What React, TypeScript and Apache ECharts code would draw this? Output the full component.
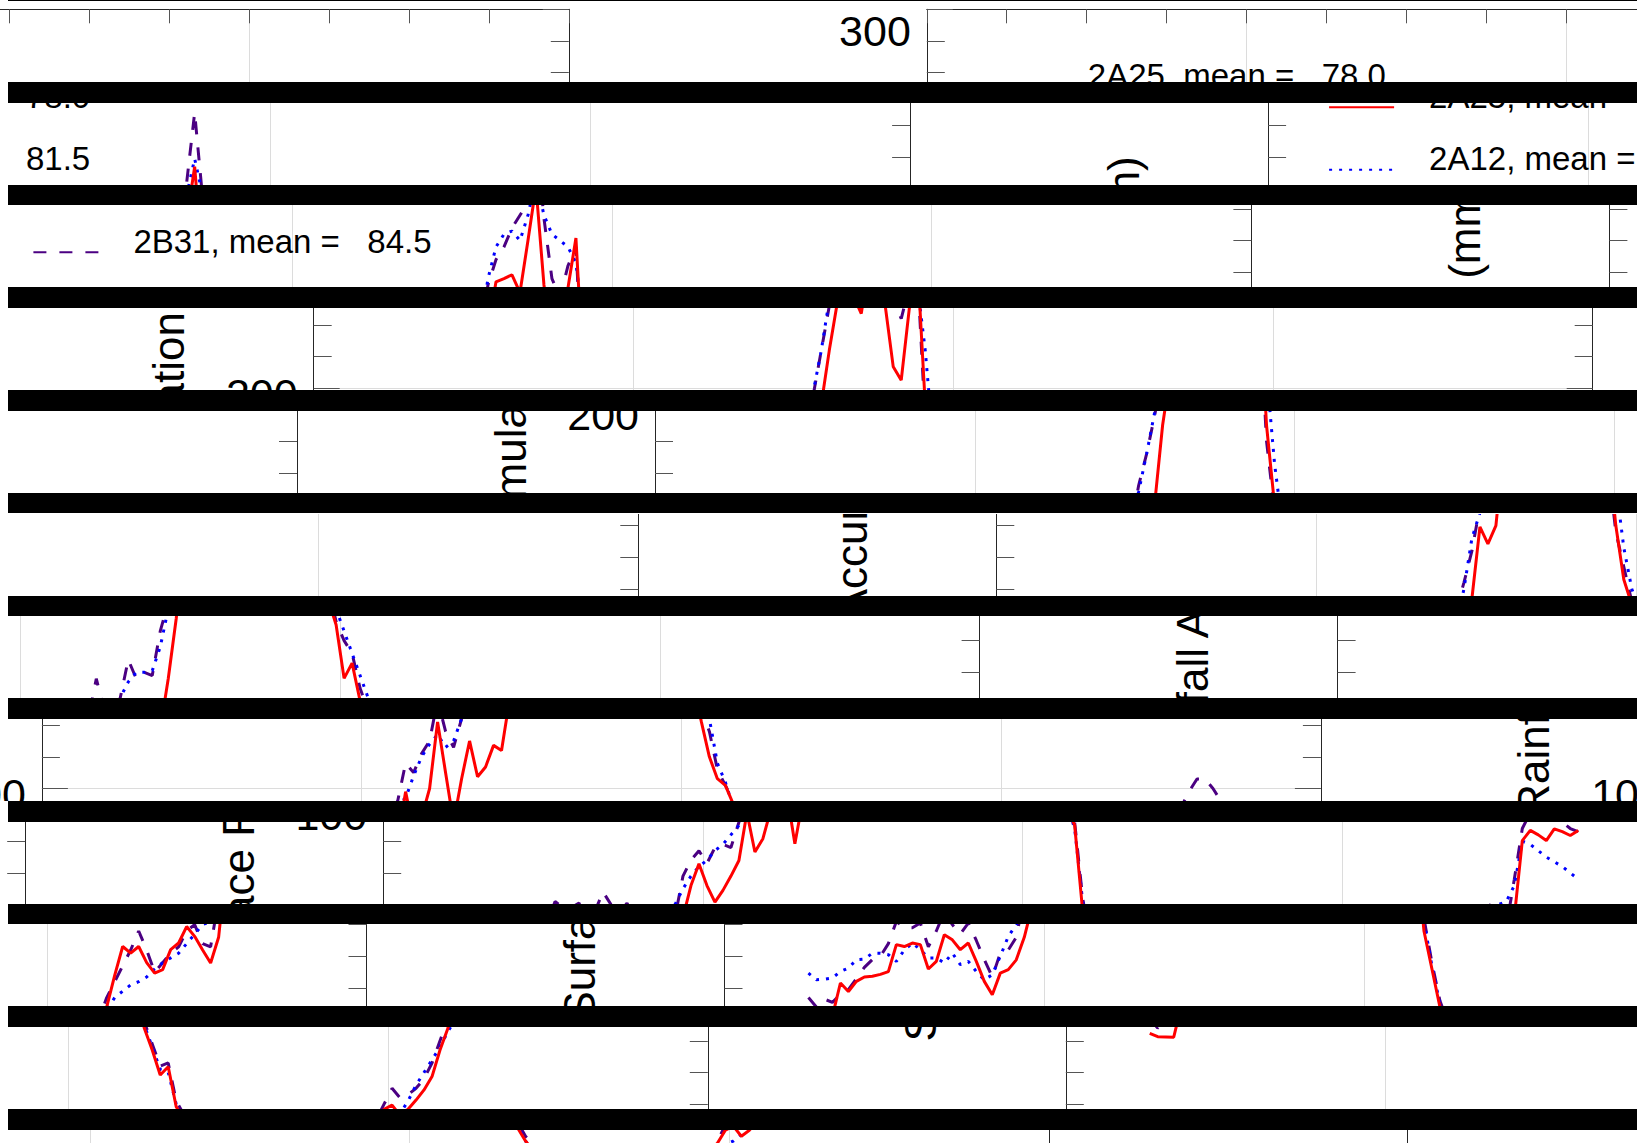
import { useEffect, useRef } from "react";
import * as echarts from "echarts";

// Page layout: the figure is shown as horizontal strips, each strip shifted
// further to the right (wrapping around), separated by black bands.
const PAGE_W = 1637;
const PAGE_H = 1143;
const STRIP_COUNT = 12;
const STRIP_H = 82;
const STRIP_PERIOD = 102.7;
const STRIP_SHIFT = 341.3;
const BAND_X = 8;

// Plot frame inside the unshifted figure
const PLOT_LEFT = 926.8;
const PLOT_TOP = 9.3;
const PLOT_W = 1279;
const PLOT_H = 951.3;

const FONT = "'Liberation Sans', Arial, Helvetica, sans-serif";
const AXIS_COLOR = "#262626";
const TICK_COLOR = "#555555";
const GRID_COLOR = "#dcdcdc";

// Axes
const xRange = [0, 160];
const xStep = 40;
const xMinorSplit = 4;
const yRange = [0, 300];
const yStep = 100;
const yMinorSplit = 10;
const yTitle = "Surface Rainfall Accumulation (mm)";

// Samples start at this x and advance by one unit
const firstX = 10.5;

// Surface rainfall accumulation (mm)
const rain2A25 = [
  42.3, 41.3, 41.2, 41.1, 51.6, 48.9, 52.1, 53.5, 53.7, 54.3,
  55.2, 63.7, 63.1, 64.2, 63.7, 56, 58.4, 66.8, 65.2, 62.1,
  64.2, 58.4, 52.1, 47.9, 54.7, 55.8, 58.9, 66, 76, 82.9,
  76, 70.8, 74.5, 79, 83.9, 99, 86.6, 90.8, 100, 121,
  105, 89.2, 103, 115, 103.7, 106.8, 113.6, 112, 128, 147,
  169.6, 164.2, 170, 195, 212, 227, 228, 229.2, 223.6, 240,
  257, 226, 206.8, 202.6, 225, 240.8, 195, 170, 153, 145,
  128.1, 132.9, 121, 110, 103.1, 101, 95, 68, 56, 44,
  37.1, 29.2, 31.8, 19.2, 15, 12, 10, 8, 7, 6,
  5, 5, 4, 4, 3, 3, 3, 2, 2, 3,
  3, 4, 5, 6, 7, 8, 10, 12, 14.3, 18.4,
  19.7, 16.5, 18.4, 21.3, 24.5, 28.7, 37.1, 44, 54, 63.1,
  61, 63.1, 58, 54.7, 55.8, 62.1, 64.2, 69.4, 66.3, 62,
  57.9, 66, 90.2, 93.4, 92, 90.2, 93.9, 93, 91.8, 93.4,
];

const rain2A12 = [
  54.7, 52.6, 52.8, 53.2, 55.2, 56.3, 58.9, 59.1, 61, 61,
  60.5, 58.4, 62, 64.2, 62.1, 59.5, 59.5, 57.9, 61, 57.4,
  58.4, 55.2, 52.6, 54.2, 60, 66.3, 70, 75, 79, 82,
  84, 87, 89, 92, 95, 97, 104, 110, 114, 117,
  113, 115, 122, 127, 130, 130, 130.5, 138, 150, 166,
  174, 186, 199, 212, 228, 238, 242, 243, 240, 248,
  259.5, 248, 242, 240, 238, 233, 212, 183, 163, 150,
  143, 136, 129, 122, 108, 102, 94, 71, 57, 45,
  38, 31, 30, 20, 15, 12, 9, 8, 6, 5,
  5, 4, 4, 3, 3, 3, 2, 2, 2, 3,
  3, 4, 5, 6, 7, 9, 10, 12, 13, 14,
  15, 17, 21, 26, 30, 34, 38, 43, 47, 49,
  51, 52, 53.5, 56, 58, 59.5, 61, 64, 67, 70,
  71, 76, 90, 89, 87, 85, 83.5, 82, 80, 78,
];

const rain2B31 = [
  47, 44, 46.5, 45.5, 48, 49.5, 53, 56.5, 59, 60,
  64, 71, 69, 69, 70.5, 63, 68, 74, 70, 67,
  70.5, 65, 59, 53.5, 61, 62, 66, 79, 84, 87,
  83, 88, 89, 88, 96, 108, 105, 111, 115, 128,
  118, 113, 122, 134, 128, 130, 129, 143, 152, 162,
  176, 186, 198, 212, 226, 234, 238, 244, 248, 252,
  274, 247, 228, 222, 232, 238, 190, 168, 157, 146,
  140, 136, 125, 118, 106, 101, 96, 72, 58, 46,
  39, 32, 33, 21, 16.5, 14, 12, 10, 8, 7,
  6, 6, 5, 4, 4, 4, 3, 3, 3, 4,
  4, 5, 6, 7, 9, 10, 12, 13, 15, 20,
  25, 22, 23, 25, 28, 33, 40, 47, 52, 57,
  62, 68, 62, 55, 58, 61, 63, 68, 70, 64,
  63, 78, 94, 99, 103, 103, 100, 96, 94, 93,
];

const products = ["2A25", "2A12", "2B31"];
const productMeans = [78.0, 81.5, 84.5];
const productValues = [rain2A25, rain2A12, rain2B31];

const productStyles = [
  { color: "#ff0000", dash: "solid" as any, z: 4 },
  { color: "#0000ff", dash: [3, 7] as any, z: 3 },
  { color: "#4b0082", dash: [13, 13] as any, z: 2 },
];

// Legend label sits slightly above its line sample
function legendText(name: string) {
  const i = products.indexOf(name);
  return `{t|${name}, mean = \u00a0\u00a0${productMeans[i].toFixed(1)}}`;
}

function xAxisFor(gridIndex: number, position: "bottom" | "top", withGrid: boolean) {
  return {
    type: "value",
    gridIndex,
    position,
    min: xRange[0],
    max: xRange[1],
    interval: xStep,
    axisLine: { show: true, onZero: false, lineStyle: { color: AXIS_COLOR, width: 1 } },
    axisTick: { show: true, inside: true, length: 14, lineStyle: { color: TICK_COLOR, width: 1 } },
    minorTick: { show: true, splitNumber: xMinorSplit, length: 14, lineStyle: { color: TICK_COLOR, width: 1 } },
    axisLabel: { show: false },
    splitLine: { show: withGrid, lineStyle: { color: GRID_COLOR, width: 1 } },
    minorSplitLine: { show: false },
  };
}

function yAxisFor(gridIndex: number, position: "left" | "right", primary: boolean) {
  return {
    type: "value",
    gridIndex,
    position,
    min: yRange[0],
    max: yRange[1],
    interval: yStep,
    name: primary ? yTitle : "",
    nameLocation: "middle",
    nameRotate: 90,
    nameGap: 123,
    nameTextStyle: { fontFamily: FONT, fontSize: 44, color: "#000" },
    axisLine: { show: true, onZero: false, lineStyle: { color: AXIS_COLOR, width: 1 } },
    axisTick: { show: true, inside: true, length: 26, lineStyle: { color: TICK_COLOR, width: 1 } },
    minorTick: { show: true, splitNumber: yMinorSplit, length: 18, lineStyle: { color: TICK_COLOR, width: 1 } },
    axisLabel: primary
      ? {
          show: true,
          margin: 16,
          formatter: (v: number) => (v === yRange[1] ? `{top|${v}}` : `{mid|${v}}`),
          rich: {
            top: { fontFamily: FONT, fontSize: 43, color: "#000", padding: [44, 0, 0, 0] },
            mid: { fontFamily: FONT, fontSize: 43, color: "#000", padding: [11, 0, 0, 0] },
          },
        }
      : { show: false },
    splitLine: { show: primary, lineStyle: { color: GRID_COLOR, width: 1 } },
    minorSplitLine: { show: false },
  };
}

function buildOption(strip: number) {
  const base = (PLOT_LEFT + STRIP_SHIFT * strip) % PAGE_W;
  const top = PLOT_TOP - STRIP_H * strip;
  const grid: any[] = [];
  const xAxis: any[] = [];
  const yAxis: any[] = [];
  const series: any[] = [];
  const legend: any[] = [];

  [-1, 0, 1].forEach((wrap, ci) => {
    const left = base + wrap * PAGE_W;
    grid.push({
      left,
      top,
      width: PLOT_W,
      height: PLOT_H,
      show: false,
      containLabel: false,
      outerBoundsMode: "none",
    });
    xAxis.push(xAxisFor(ci, "bottom", true), xAxisFor(ci, "top", false));
    yAxis.push(yAxisFor(ci, "left", true), yAxisFor(ci, "right", false));

    products.forEach((name, p) => {
      const st = productStyles[p];
      series.push({
        type: "line",
        name,
        xAxisIndex: 2 * ci,
        yAxisIndex: 2 * ci,
        data: productValues[p].map((v, i) => [firstX + i, v]),
        symbol: "none",
        showSymbol: false,
        clip: true,
        silent: true,
        z: st.z,
        color: st.color,
        lineStyle: { color: st.color, width: 3, type: st.dash, cap: "butt" },
      });
      legend.push({
        show: true,
        data: [name],
        orient: "vertical",
        left: left + 60,
        top: top + 49.5 + 62.5 * p,
        width: 600,
        height: 80,
        padding: 0,
        itemGap: 0,
        itemWidth: 65,
        itemHeight: 14,
        selectedMode: false,
        formatter: legendText,
        itemStyle: { opacity: 0 },
        textStyle: {
          fontFamily: FONT,
          fontSize: 33,
          color: "#000",
          padding: [0, 0, 0, 30],
          rich: {
            t: {
              fontFamily: FONT,
              fontSize: 33,
              lineHeight: 33,
              color: "#000",
              padding: [0, 0, 22, 0],
            },
          },
        },
      });
    });
  });

  return { animation: false, backgroundColor: "transparent", grid, xAxis, yAxis, series, legend };
}

function Strip({ index }: { index: number }) {
  const ref = useRef<HTMLDivElement>(null);
  const height = index < STRIP_COUNT - 1 ? STRIP_H : Math.ceil(PAGE_H - STRIP_PERIOD * index);
  useEffect(() => {
    const el = ref.current;
    if (!el) return;
    const chart = echarts.init(el, null, { renderer: "svg", width: PAGE_W, height });
    chart.setOption(buildOption(index) as any);
    return () => chart.dispose();
  }, [index, height]);
  return (
    <div
      ref={ref}
      style={{
        position: "absolute",
        left: 0,
        top: STRIP_PERIOD * index,
        width: PAGE_W,
        height,
        overflow: "hidden",
      }}
    />
  );
}

export default function App() {
  const strips = Array.from({ length: STRIP_COUNT }, (_, i) => i);
  const bands = Array.from({ length: STRIP_COUNT - 1 }, (_, i) => i);
  return (
    <div
      style={{
        position: "absolute",
        left: 0,
        top: 0,
        width: PAGE_W,
        height: PAGE_H,
        overflow: "hidden",
        background: "#ffffff",
      }}
    >
      {strips.map((i) => (
        <Strip key={i} index={i} />
      ))}
      <div style={{ position: "absolute", left: BAND_X, top: 0, width: PAGE_W - BAND_X, height: 1, background: "#000" }} />
      {bands.map((i) => (
        <div
          key={i}
          style={{
            position: "absolute",
            left: BAND_X,
            top: STRIP_PERIOD * i + STRIP_H,
            width: PAGE_W - BAND_X,
            height: STRIP_PERIOD - STRIP_H,
            background: "#000",
          }}
        />
      ))}
    </div>
  );
}
